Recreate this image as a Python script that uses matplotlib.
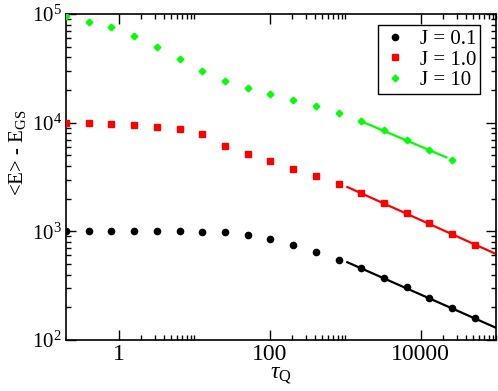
import numpy as np
import matplotlib.pyplot as plt
from matplotlib.ticker import FixedLocator, NullFormatter

plt.rcParams['font.family'] = ['Liberation Serif', 'DejaVu Serif']
plt.rcParams['mathtext.fontset'] = 'custom'
plt.rcParams['mathtext.rm'] = 'Liberation Serif'
plt.rcParams['mathtext.it'] = 'Liberation Serif:italic'

# quench times tau_Q (doubling each step)
tau = [0.2, 0.4, 0.8, 1.6, 3.2, 6.4, 12.8, 25.6, 51.2, 102.4, 204.8, 409.6,
       819.2, 1638.4, 3276.8, 6553.6, 13107.2, 26214.4, 52428.8]

# <E> - E_GS
e_j01 = [1000, 1000, 1000, 1000, 1000, 1000, 993, 979, 932, 843, 751, 652,
         546, 457, 372, 305, 246, 198, 158]
e_j1 = [10000, 9870, 9800, 9460, 9130, 8750, 7870, 6140, 5150, 4440, 3780,
        3250, 2710, 2240, 1810, 1470, 1190, 946, 755]
e_j10 = [95200, 85000, 76000, 62900, 49700, 38500, 29900, 24000, 20700, 18200,
         16200, 14300, 12200, 10300, 8600, 6940, 5580, 4540]

# power-law fits: (x_start, x_end), (y_start, y_end)
fit_j01 = ([1070, 1e5], [520, 129.6])
fit_j1 = ([1070, 1e5], [2560, 619])
fit_j10 = ([1638.4, 22000], [10300, 4800])

fig = plt.figure(figsize=(4.98, 3.91), dpi=100)
ax = fig.add_axes([0.1325, 0.1304, 0.8635, 0.8336])

ax.plot(tau, e_j01, 'o', color='black', markersize=4.5, label='J = 0.1', zorder=3)
ax.plot(tau, e_j1, 's', color='#ff0000', markersize=3.8, label='J = 1.0', zorder=3)
ax.plot(tau[:18], e_j10, 'D', color='#00ff00', markersize=3.4, label='J = 10', zorder=3)

ax.plot(fit_j01[0], fit_j01[1], '-', color='black', linewidth=1.6)
ax.plot(fit_j1[0], fit_j1[1], '-', color='#ff0000', linewidth=1.6)
ax.plot(fit_j10[0], fit_j10[1], '-', color='#00ff00', linewidth=1.6)

ax.set_xscale('log')
ax.set_yscale('log')
ax.set_xlim(0.2, 1e5)
ax.set_ylim(100, 1e5)

xmaj = [1, 100, 10000]
xmin = [m * k for m in xmaj for k in range(2, 11)]
ax.xaxis.set_major_locator(FixedLocator(xmaj))
ax.xaxis.set_minor_locator(FixedLocator([v for v in xmin if v <= 1e5]))
ax.set_xticklabels(['1', '100', '10000'])
ax.xaxis.set_minor_formatter(NullFormatter())

ax.yaxis.set_major_locator(FixedLocator([1e2, 1e3, 1e4, 1e5]))
ax.yaxis.set_minor_locator(FixedLocator([m * k for m in [1e2, 1e3, 1e4] for k in range(2, 10)]))
ax.set_yticklabels([r'$10^2$', r'$10^3$', r'$10^4$', r'$10^5$'])
ax.yaxis.set_minor_formatter(NullFormatter())

ax.tick_params(which='both', direction='in', top=True, right=True)
ax.tick_params(axis='x', labelsize=17, pad=3)
ax.tick_params(axis='y', labelsize=15, pad=3)
ax.tick_params(which='major', length=7, width=1)
ax.tick_params(which='minor', length=3.5, width=1)
for s in ax.spines.values():
    s.set_linewidth(1.2)

ax.set_xlabel(r'$\tau_{\rm Q}$', fontsize=17, labelpad=0)
ax.set_ylabel(r'<E> - E$_{\rm GS}$', fontsize=15)
ax.yaxis.set_label_coords(-0.088, 0.574)

leg = ax.legend(loc='upper right', fontsize=15, fancybox=False, edgecolor='black',
                framealpha=1, handlelength=1.2, handletextpad=0.6, borderpad=0.2,
                labelspacing=0.05, borderaxespad=0, bbox_to_anchor=(0.963, 0.966))
leg.get_frame().set_linewidth(1)

fig.savefig('out.png', dpi=100)
